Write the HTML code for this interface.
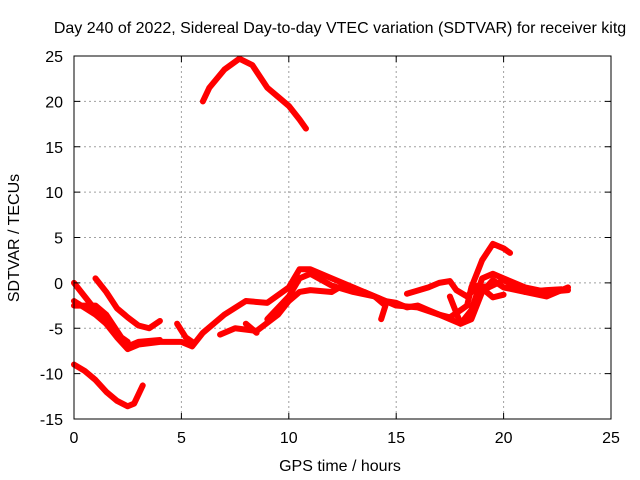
<!DOCTYPE html>
<html><head><meta charset="utf-8"><style>
body{margin:0;background:#fff}
svg{display:block;font-family:"Liberation Sans",sans-serif;font-size:16px}
</style></head><body>
<svg width="640" height="480" viewBox="0 0 640 480">
<rect width="640" height="480" fill="#fff"/>
<g id="grid"></g>
<g id="series"></g>
<rect x="74" y="56" width="537" height="363" fill="none" stroke="#000" stroke-width="1"/>
<g id="ticks"></g>
<text x="340" y="33" text-anchor="middle">Day 240 of 2022, Sidereal Day-to-day VTEC variation (SDTVAR) for receiver kitg</text>
<text x="340" y="471" text-anchor="middle">GPS time / hours</text>
<text transform="translate(19,238) rotate(-90)" text-anchor="middle">SDTVAR / TECUs</text>
</svg>
<script>
const xTicks=[0,5,10,15,20,25];
const yTicks=[-15,-10,-5,0,5,10,15,20,25];
const s1=[[6,20],[6.3,21.5],[7,23.5],[7.7,24.7],[8.3,24],[9,21.5],[9.5,20.5],[10,19.5],[10.5,18],[10.8,17]];
const s2=[[0,-9],[0.5,-9.7],[1,-10.7],[1.5,-12],[2,-13],[2.5,-13.6],[2.8,-13.3],[3.2,-11.3]];
const s3=[[1,0.5],[1.5,-1],[2,-2.8],[2.5,-3.8],[3,-4.7],[3.5,-5],[4,-4.2]];
const s4=[[0,0],[0.5,-1.5],[1,-3],[1.5,-4.5],[2,-6],[2.5,-7.3],[3,-6.8],[4,-6.5],[5,-6.5],[5.5,-7],[6,-5.5],[7,-3.5],[8,-2],[9,-2.2],[10,-0.5],[10.5,1.5],[11,1.5],[12,0.5],[13,-0.5],[14,-1.5],[15,-2.5],[16,-2.7],[17,-3.5],[18,-4.5],[18.5,-3],[19,0.5],[19.5,1],[20,0.5],[21,-0.5],[22,-1],[23,-0.8]];
const s5=[[0,-2],[1,-3.5],[2,-5.5],[2.5,-7],[3,-6.5],[4,-6.3]];
const s6=[[0,-2.5],[1,-2.5],[1.5,-3.5],[2.2,-6],[2.5,-6.5]];
const s7=[[6.8,-5.7],[7.5,-5],[8.5,-5.3],[9.5,-3.5],[10,-2],[10.5,-1],[11,-0.8],[12,-1],[12.5,-0.3],[13.5,-1],[14.5,-2],[15,-2.2],[15.5,-2.7],[16,-2.5],[16.5,-3],[17,-3.5],[17.5,-3.8],[18,-3],[18.3,-2.5],[18.5,-0.5],[19,2.5],[19.5,4.3],[20,3.8],[20.3,3.3]];
const s8=[[9,-4],[10,-1.5],[10.5,0.5],[11,1],[12,-0.3],[13,-1],[14,-1.5],[14.5,-2.5],[14.3,-4]];
const s9=[[15.5,-1.2],[16.5,-0.5],[17,0],[17.5,0.2],[17.8,-0.8],[18.3,-1.5],[18.8,-0.3],[19.3,-0.5],[20,0.3],[21,-1],[22,-0.8],[22.7,-0.7]];
const s10=[[17.5,-1.5],[18,-4.5],[18.5,-4],[19,-1],[19.5,0.3],[20,-0.5],[21,-1],[22,-1.5],[23,-0.5]];
const s11=[[20,-1.3],[19.5,-1.6],[19.2,-1]];
const s12=[[4.8,-4.5],[5.2,-6],[5.5,-6.5]];
const s13=[[8,-4.5],[8.5,-5.5]];
const allSeries=[s1,s2,s3,s4,s5,s6,s7,s8,s9,s10,s11,s12,s13];
const NS="http://www.w3.org/2000/svg";
const X0=74,X1=611,Y0=419,Y1=56;
function px(x){return X0+(x-0)/(25-0)*(X1-X0);}
function py(y){return Y0-(y+15)/(25+15)*(Y0-Y1);}
const grid=document.getElementById('grid'),ticks=document.getElementById('ticks'),ser=document.getElementById('series');
function mk(tag,attrs,parent){const e=document.createElementNS(NS,tag);for(const k in attrs)e.setAttribute(k,attrs[k]);parent.appendChild(e);return e;}
xTicks.forEach(v=>{
 const x=px(v);
 if(v>0&&v<25){const g=mk('line',{x1:x,x2:x,y1:Y1,y2:Y0,stroke:'#a0a0a0','stroke-dasharray':'2,3'},grid);
 
 }
 mk('line',{x1:x,x2:x,y1:Y0,y2:Y0-6,stroke:'#000'},ticks);
 mk('line',{x1:x,x2:x,y1:Y1,y2:Y1+6,stroke:'#000'},ticks);
 const t=mk('text',{x:x,y:Y0+24,'text-anchor':'middle'},ticks);t.textContent=v;
 
 
});
yTicks.forEach(v=>{
 const y=py(v);
 if(v>-15&&v<25){const g=mk('line',{x1:X0,x2:X1,y1:y,y2:y,stroke:'#a0a0a0','stroke-dasharray':'2,3'},grid);
 
 }
 mk('line',{x1:X0,x2:X0+6,y1:y,y2:y,stroke:'#000'},ticks);
 mk('line',{x1:X1,x2:X1-6,y1:y,y2:y,stroke:'#000'},ticks);
 const t=mk('text',{x:X0-11,y:y+6,'text-anchor':'end'},ticks);t.textContent=v;
 
 
});
allSeries.forEach((s,i)=>{
 const p=mk('polyline',{points:s.map(d=>px(d[0])+','+py(d[1])).join(' '),fill:'none',stroke:'#ff0000','stroke-width':6,'stroke-linejoin':'round','stroke-linecap':'round'},ser);
 
 
});
</script>
</body></html>
